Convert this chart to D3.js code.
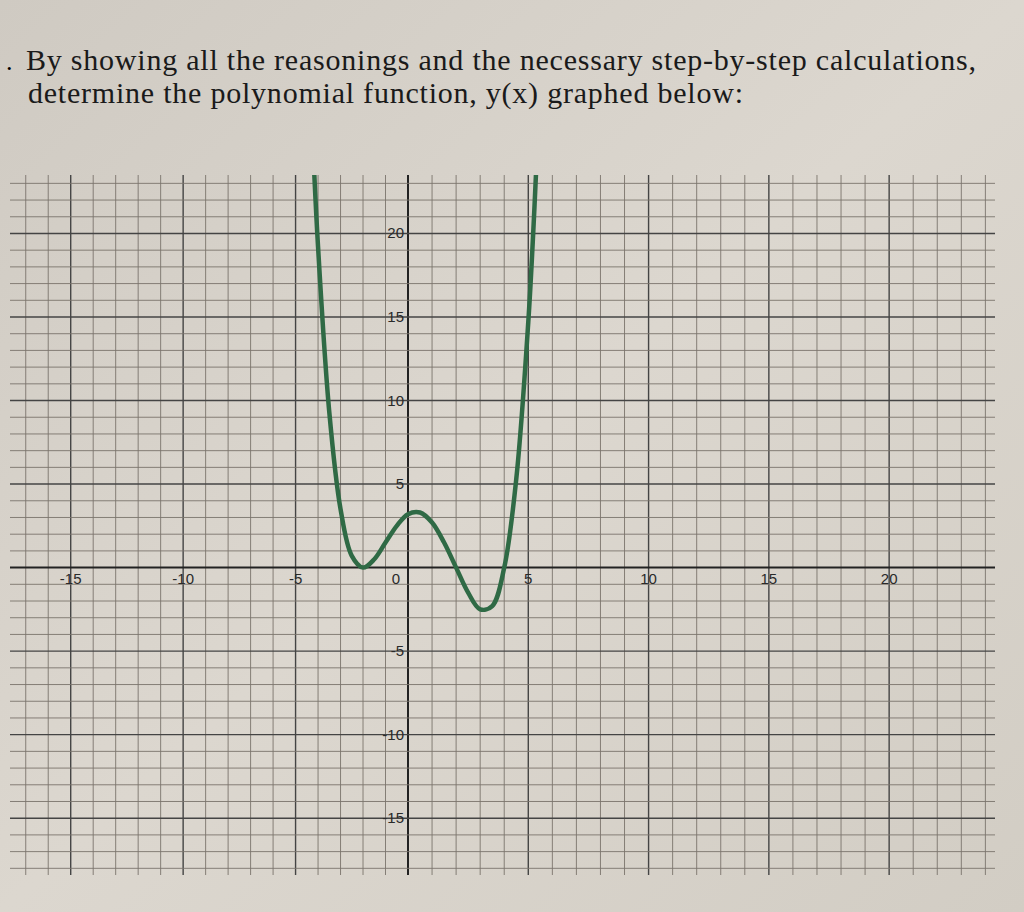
<!DOCTYPE html>
<html><head><meta charset="utf-8">
<script src="https://cdn.jsdelivr.net/npm/d3@7"></script>
<style>body{margin:0;background:#d6d1c9}</style></head>
<body><svg id="c" width="1024" height="912"></svg>
<script>
const xs = [-4.2,-4,-3.5,-3,-2.5,-2,-1.5,-1,-0.5,0,0.5,1,1.5,2,2.5,3,3.5,4,4.5,5,5.2,5.35];
const ys = [24.5,19.2,9.3,3.5,0.7,0,0.5,1.5,2.5,3.2,3.3,2.7,1.5,0,-1.5,-2.5,-2.3,0,5.3,14.7,19.9,24.5];
const xTickLabels = [-15,-10,-5,0,5,10,15,20];
const yTickLabels = [20,15,10,5,-5,-10,-15];
const title = ["By showing all the reasonings and the necessary step-by-step calculations,","determine the polynomial function, y(x) graphed below:"];

const svg = d3.select("#c");
const defs = svg.append("defs");
const g0 = defs.append("linearGradient").attr("id","bg").attr("x1",0).attr("y1",0).attr("x2",1).attr("y2",1);
g0.append("stop").attr("offset","0").attr("stop-color","#cfcac2");
g0.append("stop").attr("offset","0.5").attr("stop-color","#dcd7cf");
g0.append("stop").attr("offset","1").attr("stop-color","#d2cdc4");
svg.append("rect").attr("width",1024).attr("height",912).attr("fill","url(#bg)");

svg.selectAll("text.t").data(title).join("text").attr("class","t")
  .attr("x",(d,i)=>i?28:26).attr("y",(d,i)=>i?103:70).attr("font-family","Liberation Serif, serif")
  .attr("font-size",30).attr("fill","#1a1a1a").attr("textLength",(d,i)=>i?715:950).text(d=>d);
svg.append("text").attr("x",6).attr("y",70).attr("font-size",26).attr("font-family","Liberation Serif").text(".");

const x = d3.scaleLinear().domain([-17.7,0,24.4]).range([10,408,995]);
const y = d3.scaleLinear().domain([-18.4,23.5]).range([875,175]);
const gx = d3.range(-17,25), gy = d3.range(-18,24);
const grid = svg.append("g");
grid.selectAll("line.v").data(gx).join("line").attr("x1",d=>x(d)).attr("x2",d=>x(d)).attr("y1",175).attr("y2",875)
  .attr("stroke",d=>d===0?"#222":(d%5===0?"#444":"#7a746c")).attr("stroke-width",d=>d===0?2:(d%5===0?1.4:0.9));
grid.selectAll("line.h").data(gy).join("line").attr("y1",d=>y(d)).attr("y2",d=>y(d)).attr("x1",10).attr("x2",995)
  .attr("stroke",d=>d===0?"#222":(d%5===0?"#444":"#7a746c")).attr("stroke-width",d=>d===0?2:(d%5===0?1.4:0.9));

const lab = svg.append("g").attr("font-family","Liberation Sans, Arial").attr("font-size",15).attr("fill","#2a2a2a");
xTickLabels.forEach(v=>{
  lab.append("text").attr("x",x(v)-(v===0?12:0)).attr("y",y(0)+16).attr("text-anchor","middle").text(v);
});
yTickLabels.forEach(v=>{
  lab.append("text").attr("x",x(0)-4).attr("y",y(v)+5).attr("text-anchor","end").text(v);
});

svg.append("clipPath").attr("id","cp").append("rect").attr("x",0).attr("y",y(23.5)).attr("width",1024).attr("height",700);
const line = d3.line().x(d=>x(d[0])).y(d=>y(d[1])).curve(d3.curveCatmullRom);
svg.append("path").datum(xs.map((v,i)=>[v,ys[i]])).attr("d",line).attr("clip-path","url(#cp)")
  .attr("fill","none").attr("stroke","#2f6a45").attr("stroke-width",4.5);
</script></body></html>
